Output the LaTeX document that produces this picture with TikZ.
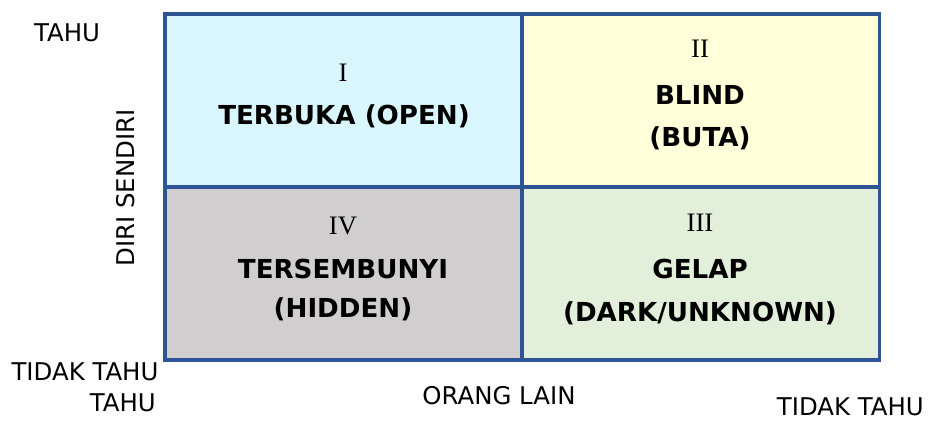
\documentclass[tikz,border=0pt]{standalone}
\usepackage{fontspec}
\setmainfont{DejaVu Sans}
\newfontfamily\numfont{Liberation Serif}
\definecolor{gridblue}{HTML}{2F5496}
\definecolor{openfill}{HTML}{DAF6FD}
\definecolor{blindfill}{HTML}{FFFFDA}
\definecolor{hiddenfill}{HTML}{D0CECE}
\definecolor{darkfill}{HTML}{E2EFDA}
\tikzset{
  cell/.style={draw=gridblue, line width=2.7pt, inner sep=0pt, outer sep=0pt,
    minimum width=267.75pt, minimum height=129.75pt},
  axislabel/.style={inner sep=0pt, font=\fontsize{18.3}{21}\selectfont},
  numeral/.style={inner sep=0pt, font=\numfont\fontsize{20}{22}\selectfont},
  title/.style={inner sep=0pt, font=\bfseries\fontsize{19.6}{22}\selectfont},
}
\begin{document}
\begin{tikzpicture}[x=0.75pt, y=-0.75pt]
\useasboundingbox (0,0) rectangle (929,421);
% the four quadrants of the window
\node[cell, fill=openfill]   (open)   at (343.5,100.5) {};
\node[cell, fill=blindfill]  (blind)  at (701,100.5)   {};
\node[cell, fill=hiddenfill] (hidden) at (343.5,273.5) {};
\node[cell, fill=darkfill]   (dark)   at (701,273.5)   {};

% quadrant I
\node[numeral] (n1) at (343,73) {I};
\node[title]   (t1) at (344,116) {TERBUKA (OPEN)};
% quadrant II
\node[numeral] (n2) at (700,49) {II};
\node[title]   (t2a) at (700,95) {BLIND};
\node[title]   (t2b) at (700,138) {(BUTA)};
% quadrant IV
\node[numeral] (n4) at (343,226) {IV};
\node[title]   (t4a) at (343,269) {TERSEMBUNYI};
\node[title]   (t4b) at (343,309) {(HIDDEN)};
% quadrant III
\node[numeral] (n3) at (700,223) {III};
\node[title]   (t3a) at (700,269) {GELAP};
\node[title]   (t3b) at (700,313) {(DARK/UNKNOWN)};

% axis labels
\node[axislabel] (selfknown) at (67,33) {TAHU};
\node[axislabel, rotate=90] (self) at (126,188) {DIRI SENDIRI};
\node[axislabel] (selfunknown) at (85,372) {TIDAK TAHU};
\node[axislabel, anchor=east] (othersknown) at (156,403) {TAHU};
\node[axislabel] (others) at (499,396) {ORANG LAIN};
\node[axislabel, anchor=east] (othersunknown) at (924,407) {TIDAK TAHU};
\end{tikzpicture}
\end{document}
